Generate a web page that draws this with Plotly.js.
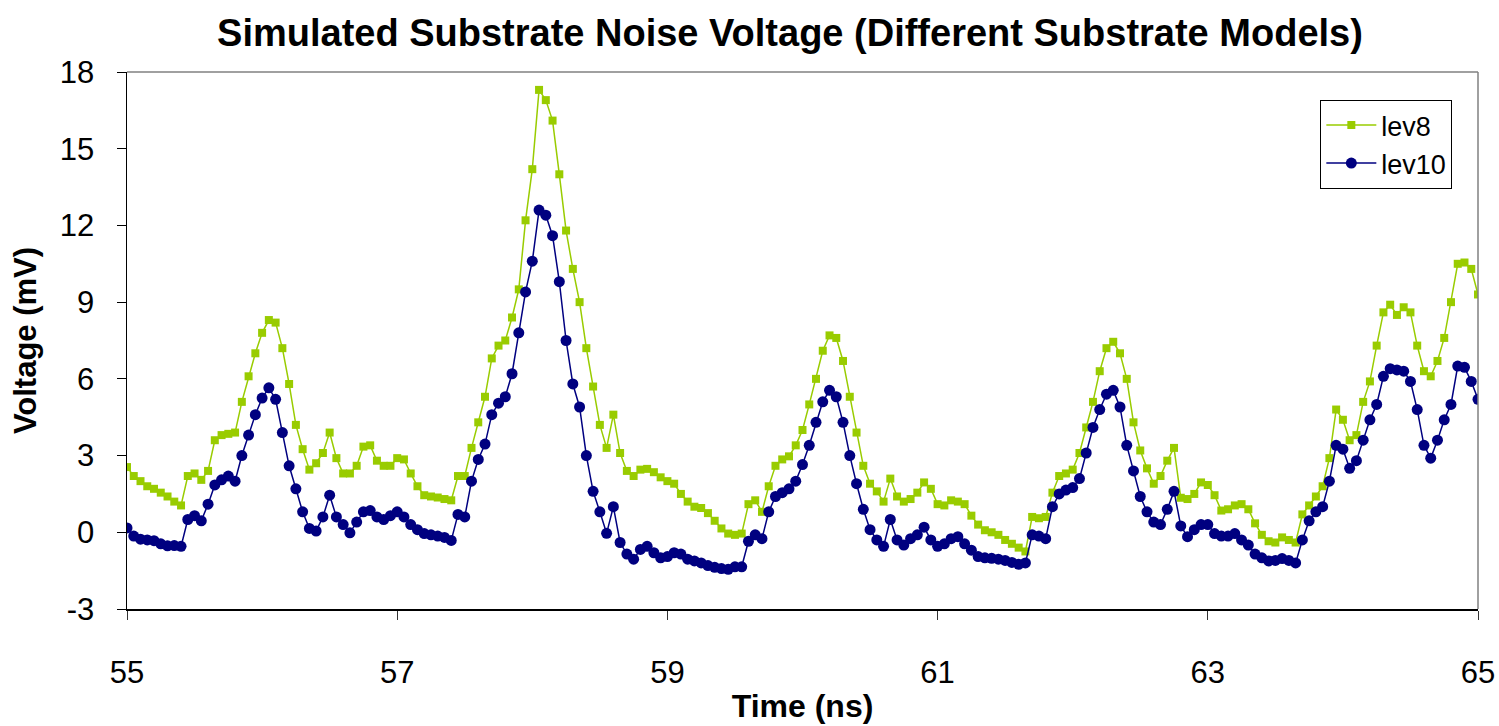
<!DOCTYPE html>
<html>
<head>
<meta charset="utf-8">
<script src="https://cdn.plot.ly/plotly-3.0.1.min.js"></script>
<style>html,body{margin:0;padding:0;background:#fff;}#chart{width:1499px;height:726px;}</style>
</head>
<body>
<div id="chart"></div>
<script>
// Time samples (ns)
const time = [
55.00,55.05,55.10,55.15,55.20,55.25,55.30,55.35,55.40,55.45,
55.50,55.55,55.60,55.65,55.70,55.75,55.80,55.85,55.90,55.95,
56.00,56.05,56.10,56.15,56.20,56.25,56.30,56.35,56.40,56.45,
56.50,56.55,56.60,56.65,56.70,56.75,56.80,56.85,56.90,56.95,
57.00,57.05,57.10,57.15,57.20,57.25,57.30,57.35,57.40,57.45,
57.50,57.55,57.60,57.65,57.70,57.75,57.80,57.85,57.90,57.95,
58.00,58.05,58.10,58.15,58.20,58.25,58.30,58.35,58.40,58.45,
58.50,58.55,58.60,58.65,58.70,58.75,58.80,58.85,58.90,58.95,
59.00,59.05,59.10,59.15,59.20,59.25,59.30,59.35,59.40,59.45,
59.50,59.55,59.60,59.65,59.70,59.75,59.80,59.85,59.90,59.95,
60.00,60.05,60.10,60.15,60.20,60.25,60.30,60.35,60.40,60.45,
60.50,60.55,60.60,60.65,60.70,60.75,60.80,60.85,60.90,60.95,
61.00,61.05,61.10,61.15,61.20,61.25,61.30,61.35,61.40,61.45,
61.50,61.55,61.60,61.65,61.70,61.75,61.80,61.85,61.90,61.95,
62.00,62.05,62.10,62.15,62.20,62.25,62.30,62.35,62.40,62.45,
62.50,62.55,62.60,62.65,62.70,62.75,62.80,62.85,62.90,62.95,
63.00,63.05,63.10,63.15,63.20,63.25,63.30,63.35,63.40,63.45,
63.50,63.55,63.60,63.65,63.70,63.75,63.80,63.85,63.90,63.95,
64.00,64.05,64.10,64.15,64.20,64.25,64.30,64.35,64.40,64.45,
64.50,64.55,64.60,64.65,64.70,64.75,64.80,64.85,64.90,64.95,
65.00];

// Voltage (mV), series lev8
const lev8 = [
2.55,2.2,2.0,1.8,1.7,1.55,1.4,1.2,1.05,2.2,
2.3,2.05,2.4,3.6,3.8,3.85,3.9,5.1,6.1,7.0,
7.8,8.3,8.2,7.2,5.8,4.2,3.25,2.45,2.7,3.1,
3.9,2.9,2.3,2.3,2.6,3.35,3.4,2.8,2.6,2.6,
2.9,2.85,2.3,1.8,1.45,1.4,1.36,1.3,1.25,2.2,
2.2,3.3,4.3,5.3,6.8,7.3,7.5,8.4,9.5,12.2,
14.2,17.3,16.9,16.1,14.0,11.8,10.3,9.0,7.2,5.7,
4.2,3.3,4.6,3.1,2.4,2.2,2.45,2.48,2.35,2.15,
2.0,1.9,1.5,1.2,1.0,0.95,0.75,0.45,0.15,-0.05,
-0.1,-0.05,1.1,1.25,0.8,1.8,2.6,2.85,2.97,3.4,
4.0,5.0,6.0,7.1,7.7,7.6,6.7,5.3,3.9,2.6,
1.9,1.6,1.2,2.1,1.4,1.2,1.3,1.55,1.95,1.7,
1.1,1.05,1.25,1.2,1.1,0.65,0.3,0.08,0.0,-0.1,
-0.3,-0.45,-0.6,-0.75,0.6,0.55,0.6,1.55,2.2,2.3,
2.45,3.1,4.1,5.1,6.3,7.2,7.45,7.0,6.0,4.3,
3.2,2.5,1.9,2.2,2.8,3.3,1.35,1.3,1.5,1.95,
1.85,1.45,0.85,0.9,1.05,1.1,0.9,0.35,-0.1,-0.35,
-0.4,-0.2,-0.3,-0.4,0.7,1.05,1.4,1.8,2.9,4.8,
4.4,3.6,3.8,5.1,5.9,7.3,8.6,8.9,8.5,8.8,
8.6,7.3,6.3,6.1,6.7,7.6,9.0,10.5,10.55,10.3,
9.3];

// Voltage (mV), series lev10
const lev10 = [
0.17,-0.15,-0.27,-0.3,-0.33,-0.45,-0.53,-0.52,-0.55,0.5,
0.65,0.45,1.1,1.85,2.05,2.2,2.0,3.0,3.8,4.6,
5.25,5.65,5.2,3.9,2.6,1.7,0.8,0.15,0.05,0.6,
1.45,0.6,0.3,-0.02,0.4,0.8,0.85,0.6,0.5,0.65,
0.8,0.6,0.3,0.1,-0.05,-0.1,-0.15,-0.2,-0.32,0.7,
0.6,2.0,2.85,3.45,4.6,5.05,5.3,6.2,7.8,9.4,
10.6,12.6,12.4,11.6,9.8,7.5,5.8,4.9,3.0,1.6,
0.8,-0.04,1.0,-0.4,-0.85,-1.05,-0.67,-0.55,-0.8,-1.0,
-0.95,-0.8,-0.85,-1.05,-1.12,-1.2,-1.3,-1.37,-1.42,-1.45,
-1.35,-1.35,-0.35,-0.1,-0.25,0.8,1.4,1.55,1.7,2.0,
2.65,3.4,4.3,5.1,5.55,5.3,4.3,3.0,1.9,0.9,
0.1,-0.3,-0.55,0.5,-0.3,-0.5,-0.25,-0.1,0.2,-0.3,
-0.55,-0.45,-0.25,-0.17,-0.45,-0.7,-0.95,-1.0,-1.02,-1.05,
-1.1,-1.18,-1.25,-1.2,-0.1,-0.15,-0.25,1.0,1.5,1.65,
1.75,2.1,3.1,4.1,4.8,5.4,5.55,4.9,3.4,2.4,
1.4,0.8,0.4,0.3,0.9,1.6,0.25,-0.17,0.1,0.3,
0.3,-0.05,-0.15,-0.15,-0.05,-0.3,-0.5,-0.85,-1.0,-1.12,
-1.1,-1.03,-1.1,-1.2,-0.3,0.45,0.8,1.0,2.0,3.4,
3.25,2.5,2.8,3.6,4.4,5.0,6.1,6.4,6.35,6.3,
5.9,4.8,3.4,2.9,3.6,4.4,5.0,6.5,6.45,5.9,
5.2];

const seriesNames = ['lev8', 'lev10'];
const xTicks = [55, 57, 59, 61, 63, 65];
const yTicks = [-3, 0, 3, 6, 9, 12, 15, 18];

const FONT = '"Liberation Sans", Arial, Helvetica, sans-serif';

const traces = [
  {
    x: time, y: lev8, name: seriesNames[0], type: 'scatter', mode: 'lines+markers',
    line: {color: '#99CC00', width: 1.5},
    marker: {symbol: 'square', size: 8, color: '#99CC00'}
  },
  {
    x: time, y: lev10, name: seriesNames[1], type: 'scatter', mode: 'lines+markers',
    line: {color: '#000080', width: 1.5},
    marker: {symbol: 'circle', size: 11, color: '#000080'}
  }
];

const layout = {
  width: 1499, height: 726,
  margin: {l: 127, r: 21, t: 72, b: 117},
  paper_bgcolor: '#fff', plot_bgcolor: '#fff',
  font: {family: FONT, color: '#000'},
  title: {
    text: '<b>Simulated Substrate Noise Voltage (Different Substrate Models)</b>',
    font: {family: FONT, size: 38, color: '#000'},
    x: 0.527, xref: 'container', xanchor: 'center',
    y: 0.955, yref: 'container', yanchor: 'middle'
  },
  xaxis: {
    range: [55, 65], tickvals: xTicks, ticktext: xTicks.map(String),
    showgrid: false, zeroline: false,
    showline: true, linecolor: '#000', linewidth: 1.5,
    ticks: 'outside', ticklen: 9, tickcolor: '#333', tickwidth: 1,
    ticklabelstandoff: 26,
    tickfont: {family: FONT, size: 31, color: '#000'},
    title: {text: '<b>Time (ns)</b>', font: {family: FONT, size: 32, color: '#000'}, standoff: 6}
  },
  yaxis: {
    range: [-3, 18], tickvals: yTicks, ticktext: yTicks.map(String),
    showgrid: false, zeroline: false,
    showline: true, linecolor: '#000', linewidth: 1.5,
    ticks: 'outside', ticklen: 9, tickcolor: '#000', tickwidth: 1,
    ticklabelstandoff: 16,
    tickfont: {family: FONT, size: 31, color: '#000'},
    title: {text: '<b>Voltage (mV)</b>', font: {family: FONT, size: 31, color: '#000'}, standoff: 14}
  },
  shapes: [
    {type: 'line', xref: 'paper', yref: 'paper', x0: 0, x1: 1, y0: 1, y1: 1, line: {color: '#808080', width: 1.5}},
    {type: 'line', xref: 'paper', yref: 'paper', x0: 1, x1: 1, y0: 0, y1: 1, line: {color: '#808080', width: 1.5}}
  ],
  legend: {
    x: 0.981, xanchor: 'right', y: 0.948, yanchor: 'top',
    bgcolor: '#fff', bordercolor: '#000', borderwidth: 1,
    font: {family: FONT, size: 27, color: '#000'},
    itemwidth: 50, tracegroupgap: 0
  },
  showlegend: true
};

Plotly.newPlot('chart', traces, layout, {displayModeBar: false, staticPlot: true});
</script>
</body>
</html>
